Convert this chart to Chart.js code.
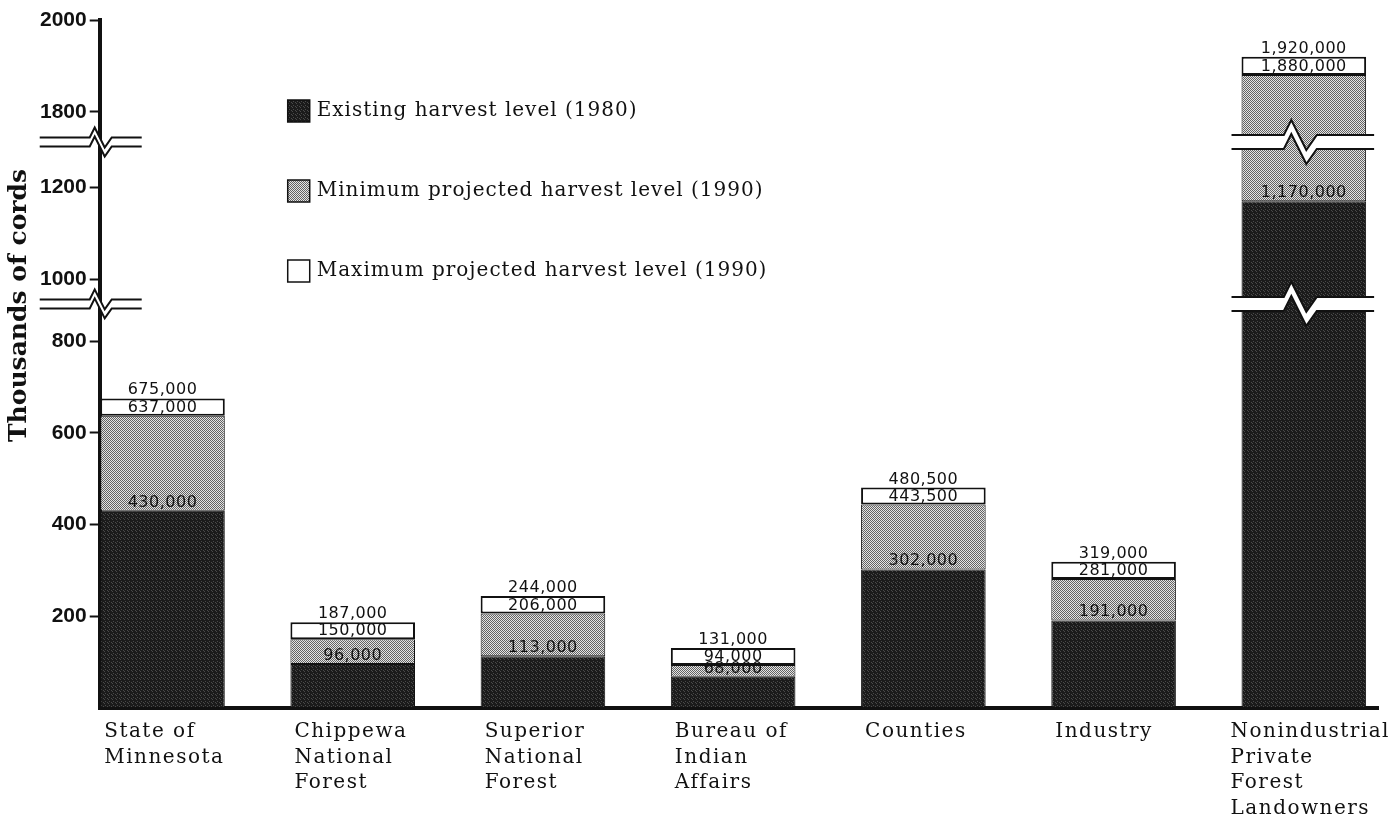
<!DOCTYPE html>
<html>
<head>
<meta charset="utf-8">
<title>Harvest levels by ownership</title>
<script src="https://cdn.jsdelivr.net/npm/chart.js"></script>
<style>
  html, body { margin: 0; padding: 0; background: #fff; }
  canvas { display: block; }
</style>
</head>
<body>
<canvas id="harvestChart" width="1394" height="816"></canvas>
<script>
(function () {
    'use strict';

    // ─── DATA (thousands of cords) ──────────────────────────
    const categories = [
        ['State of', 'Minnesota'],
        ['Chippewa', 'National', 'Forest'],
        ['Superior', 'National', 'Forest'],
        ['Bureau of', 'Indian', 'Affairs'],
        ['Counties'],
        ['Industry'],
        ['Nonindustrial', 'Private', 'Forest', 'Landowners']
    ];
    const existing1980 = [430, 96, 113, 68, 302, 191, 1170];
    const minProjected1990 = [637, 150, 206, 94, 443.5, 281, 1880];
    const maxProjected1990 = [675, 187, 244, 131, 480.5, 319, 1920];
    const yTickValues = [200, 400, 600, 800, 1000, 1200, 1800, 2000];
    const yTickLabels = ['200', '400', '600', '800', '1000', '1200', '1800', '2000'];
    const seriesLabels = [
        'Existing harvest level (1980)',
        'Minimum projected harvest level (1990)',
        'Maximum projected harvest level (1990)'
    ];
    // broken axis: values between [from, to] are squeezed into `span` units
    const axisBreaks = [[800, 1000, 135], [1200, 1800, 165]];

    function toDisplay(v) {
        let d = v;
        for (const [from, to, span] of axisBreaks) {
            if (v >= to) d -= (to - from) - span;
            else if (v > from) d -= (v - from) - span * (v - from) / (to - from);
        }
        return d;
    }

    // ─── HELPER: halftone fills ─────────────────────────────
    function makePattern(cells) {
        const c = document.createElement('canvas');
        c.width = cells[0].length; c.height = cells.length;
        const g = c.getContext('2d');
        cells.forEach((row, y) => row.forEach((col, x) => { g.fillStyle = col; g.fillRect(x, y, 1, 1); }));
        return g.createPattern(c, 'repeat');
    }
    const D = '#1b1b1b', d = '#4a4a4a', L = '#e4e4e4', G = '#626262';
    const darkFill = makePattern([[D, D, D, D], [D, d, D, D], [D, D, D, d], [d, D, D, D]]);
    const grayFill = makePattern([[G, L], [L, G]]);
    const fills = [darkFill, grayFill, '#ffffff'];

    const lowBounds = [existing1980.map(() => 0), existing1980, minProjected1990];
    const highBounds = [existing1980, minProjected1990, maxProjected1990];

    const datasets = seriesLabels.map((label, s) => ({
        label,
        data: highBounds[s].map((v, i) => ({ x: i, y: [toDisplay(lowBounds[s][i]), toDisplay(v)] })),
        backgroundColor: fills[s],
        borderColor: '#111',
        borderWidth: s === 2 ? 2 : 1,
        borderSkipped: false,
        categoryPercentage: 1,
        barPercentage: 0.655
    }));

    // ─── HELPER: zig-zag axis break ─────────────────────────
    function drawBreak(ctx, x0, x1, cx, cy, gap, k) {
        const zig = [[-10, 0], [-5, -10], [5, 10], [12, 0]].map(([dx, dy]) => [cx + dx * k, dy * k]);
        const line = (yy) => [[x0, yy]].concat(zig.map(([x, dy]) => [x, yy + dy]), [[x1, yy]]);
        const top = line(cy - gap / 2), bot = line(cy + gap / 2);
        ctx.save();
        ctx.beginPath();
        top.forEach(([x, y], i) => i ? ctx.lineTo(x, y) : ctx.moveTo(x, y));
        bot.slice().reverse().forEach(([x, y]) => ctx.lineTo(x, y));
        ctx.closePath();
        ctx.fillStyle = '#fff';
        ctx.fill();
        ctx.strokeStyle = '#111';
        ctx.lineWidth = 2;
        [top, bot].forEach(pts => {
            ctx.beginPath();
            pts.forEach(([x, y], i) => i ? ctx.lineTo(x, y) : ctx.moveTo(x, y));
            ctx.stroke();
        });
        ctx.restore();
    }

    const annotate = {
        id: 'annotate',
        afterDatasetsDraw(chart) {
            const { ctx, chartArea, scales: { x, y } } = chart;
            const topMeta = chart.getDatasetMeta(2);

            // breaks on the axis and on any bar that runs through them
            axisBreaks.forEach(([from, , span]) => {
                const cy = y.getPixelForValue(toDisplay(from) + span * 0.6);
                drawBreak(ctx, chartArea.left - 60, chartArea.left + 42, chartArea.left, cy, 9, 1);
                maxProjected1990.forEach((v, i) => {
                    if (toDisplay(v) <= toDisplay(from)) return;
                    const bar = topMeta.data[i];
                    drawBreak(ctx, bar.x - bar.width / 2 - 10, bar.x + bar.width / 2 + 8, bar.x - 5, cy, 14, 1.5);
                });
            });

            // value labels above each segment
            ctx.save();
            ctx.font = '16px "DejaVu Sans"';
            ctx.letterSpacing = '0.5px';
            ctx.fillStyle = '#111';
            ctx.textAlign = 'center';
            ctx.textBaseline = 'alphabetic';
            highBounds.forEach(arr => arr.forEach((v, i) => {
                const px = x.getPixelForValue(i);
                const py = y.getPixelForValue(toDisplay(v));
                ctx.fillText((v * 1000).toLocaleString('en-US'), px, py - 4);
            }));
            ctx.restore();
        },
        afterDraw(chart) {
            const { ctx, chartArea } = chart;
            const meta = chart.getDatasetMeta(0);

            // legend
            ctx.save();
            ctx.font = '20px "DejaVu Serif"';
            ctx.letterSpacing = '1px';
            ctx.textBaseline = 'middle';
            seriesLabels.forEach((label, s) => {
                const lx = chartArea.left + 188, ly = chartArea.top + 91 + s * 80;
                ctx.fillStyle = fills[s];
                ctx.fillRect(lx, ly - 11, 22, 22);
                ctx.strokeStyle = '#111';
                ctx.lineWidth = 1.5;
                ctx.strokeRect(lx, ly - 11, 22, 22);
                ctx.fillStyle = '#111';
                ctx.fillText(label, lx + 29, ly);
            });

            // category labels, left aligned under each bar
            ctx.textBaseline = 'alphabetic';
            ctx.textAlign = 'left';
            ctx.letterSpacing = '1.5px';
            categories.forEach((lines, i) => {
                const bar = meta.data[i];
                const w = Math.max(...lines.map(t => ctx.measureText(t).width));
                const lx = Math.min(bar.x - bar.width / 2 + 4, chart.width - 4 - w);
                lines.forEach((t, j) => ctx.fillText(t, lx, chartArea.bottom + 29 + j * 25.5));
            });

            // y title
            ctx.letterSpacing = '0px';
            ctx.font = 'bold 25px "DejaVu Serif"';
            ctx.textAlign = 'center';
            ctx.textBaseline = 'middle';
            ctx.translate(19, chartArea.top + (chartArea.bottom - chartArea.top) * 0.415);
            ctx.rotate(-Math.PI / 2);
            ctx.fillText('Thousands of cords', 0, 0);
            ctx.restore();
        }
    };

    new Chart(document.getElementById('harvestChart'), {
        type: 'bar',
        data: { datasets },
        plugins: [annotate],
        options: {
            responsive: false,
            animation: false,
            layout: { padding: { left: 37, right: 16, top: 20, bottom: 100 } },
            plugins: { legend: { display: false }, tooltip: { enabled: false } },
            scales: {
                x: {
                    type: 'linear', min: -0.33, max: 6.39, stacked: true, offset: false,
                    afterBuildTicks: axis => { axis.ticks = categories.map((c, i) => ({ value: i })); },
                    ticks: { display: false },
                    grid: { display: false },
                    border: { color: '#111', width: 4 }
                },
                y: {
                    min: 0, max: toDisplay(2000),
                    afterBuildTicks: axis => { axis.ticks = yTickValues.map(v => ({ value: toDisplay(v) })); },
                    ticks: {
                        callback: (v, i) => yTickLabels[i],
                        font: { family: '"Liberation Sans", Arial, sans-serif', size: 21, weight: 'bold' },
                        color: '#111',
                        padding: 3
                    },
                    grid: { drawOnChartArea: false, tickLength: 10, tickWidth: 2, tickColor: '#111' },
                    border: { color: '#111', width: 4 }
                }
            }
        }
    });
})();
</script>
</body>
</html>
